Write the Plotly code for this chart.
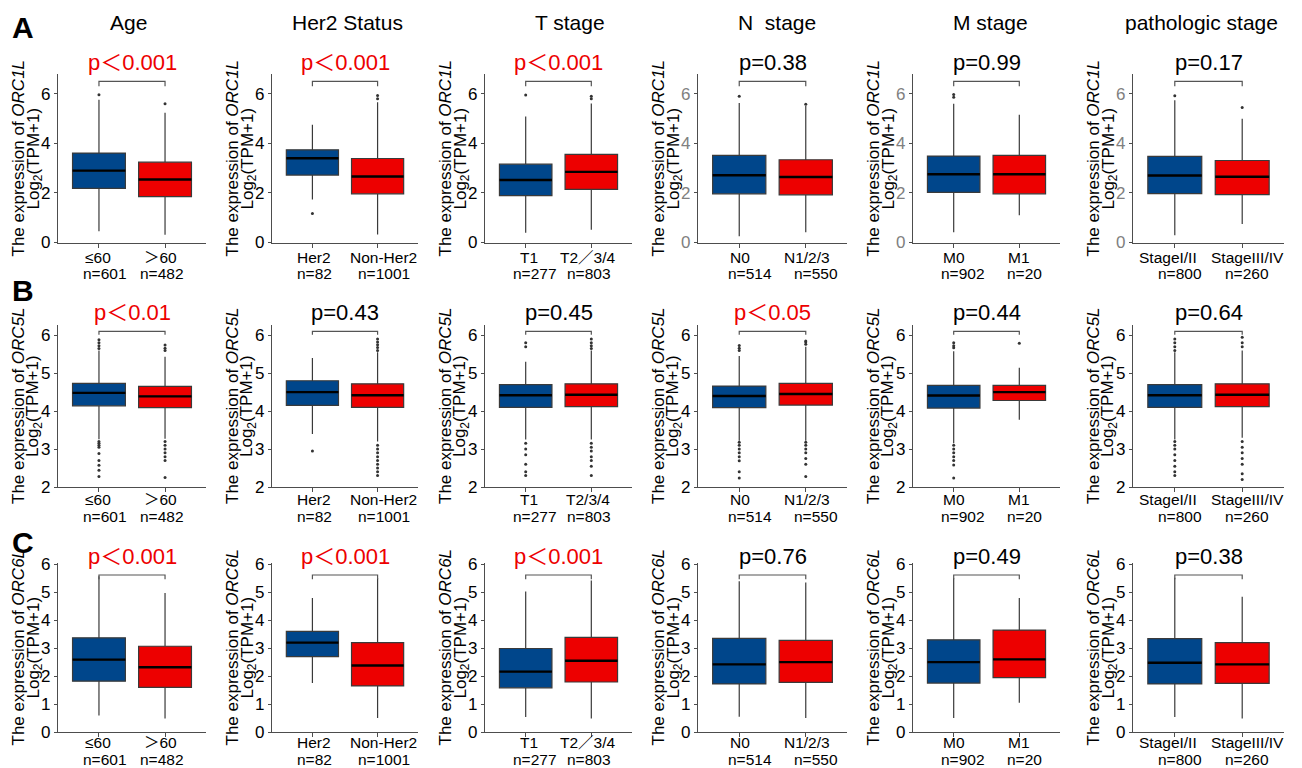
import plotly.graph_objects as go

W, H = 1302, 768
FONT = "Liberation Sans, Arial, Noto Sans CJK SC, sans-serif"

# ---------------- data ----------------
genes = ["ORC1L", "ORC5L", "ORC6L"]
row_letters = ["A", "B", "C"]
col_titles = ["Age", "Her2 Status", "T stage", "N  stage", "M stage", "pathologic stage"]

labels_AC = [["≤60", "＞60"], ["Her2", "Non-Her2"], ["T1", "T2／3/4"],
             ["N0", "N1/2/3"], ["M0", "M1"], ["StageI/II", "StageIII/IV"]]
labels_B = [["≤60", "＞60"], ["Her2", "Non-Her2"], ["T1", "T2/3/4"],
            ["N0", "N1/2/3"], ["M0", "M1"], ["StageI/II", "StageIII/IV"]]
group_n = [[601, 482], [82, 1001], [277, 803], [514, 550], [902, 20], [800, 260]]

p_values = [
    ["p＜0.001", "p＜0.001", "p＜0.001", "p=0.38", "p=0.99", "p=0.17"],
    ["p＜0.01", "p=0.43", "p=0.45", "p＜0.05", "p=0.44", "p=0.64"],
    ["p＜0.001", "p＜0.001", "p＜0.001", "p=0.76", "p=0.49", "p=0.38"],
]

# box statistics per column: [group1, group2] each (lower whisker, q1, median, q3, upper whisker)
orc1l_stats = [
    [(0.44, 2.17, 2.89, 3.60, 5.76), (0.29, 1.84, 2.53, 3.23, 5.23)],
    [(1.72, 2.71, 3.39, 3.73, 4.75), (0.30, 1.95, 2.65, 3.38, 5.66)],
    [(0.37, 1.88, 2.51, 3.15, 5.08), (0.50, 2.13, 2.84, 3.55, 5.61)],
    [(0.23, 1.95, 2.70, 3.51, 5.63), (0.40, 1.91, 2.63, 3.33, 5.50)],
    [(0.40, 2.01, 2.74, 3.48, 5.60), (1.08, 1.95, 2.74, 3.51, 5.15)],
    [(0.27, 1.96, 2.69, 3.47, 5.74), (0.73, 1.92, 2.64, 3.30, 4.99)],
]
orc1l_outliers = [
    [[5.96], [5.60]],
    [[1.15], [5.80, 5.93]],
    [[5.95], [5.80, 5.90]],
    [[5.90], [5.58]],
    [[5.86, 5.97], []],
    [[5.92], [5.44]],
]

orc5l_stats = [
    [(3.26, 4.14, 4.48, 4.73, 5.60), (3.27, 4.09, 4.39, 4.65, 5.43)],
    [(3.40, 4.15, 4.50, 4.80, 5.40), (3.20, 4.10, 4.42, 4.72, 5.55)],
    [(3.25, 4.10, 4.42, 4.70, 5.30), (3.25, 4.12, 4.43, 4.72, 5.60)],
    [(3.22, 4.09, 4.40, 4.66, 5.45), (3.22, 4.16, 4.45, 4.73, 5.70)],
    [(3.15, 4.08, 4.41, 4.68, 5.58), (3.77, 4.28, 4.50, 4.68, 5.14)],
    [(3.25, 4.10, 4.42, 4.70, 5.55), (3.30, 4.12, 4.43, 4.72, 5.60)],
]
orc5l_outliers = [
    [[5.65, 5.72, 5.80, 5.88, 3.20, 3.15, 3.10, 3.05, 2.88, 2.70, 2.57, 2.44, 2.28],
     [5.60, 5.66, 5.74, 3.20, 3.10, 3.00, 2.90, 2.80, 2.70, 2.25]],
    [[2.95],
     [5.60, 5.68, 5.75, 5.82, 5.90, 3.10, 3.00, 2.90, 2.80, 2.70, 2.60, 2.50, 2.40, 2.30]],
    [[5.70, 5.80, 3.15, 3.00, 2.85, 2.60, 2.40, 2.30],
     [5.65, 5.72, 5.80, 5.90, 3.15, 3.05, 2.95, 2.80, 2.70, 2.55, 2.30]],
    [[5.60, 5.66, 5.73, 3.18, 3.10, 3.00, 2.90, 2.80, 2.69, 2.40, 2.24],
     [5.76, 5.82, 5.85, 3.18, 3.10, 3.00, 2.90, 2.75, 2.60, 2.28]],
    [[5.67, 5.72, 5.80, 3.10, 3.00, 2.90, 2.80, 2.70, 2.58, 2.24],
     [5.79]],
    [[5.60, 5.70, 5.80, 5.90, 3.20, 3.10, 3.00, 2.85, 2.70, 2.55, 2.40, 2.30],
     [5.70, 5.80, 5.95, 3.20, 3.05, 2.90, 2.75, 2.60, 2.35, 2.20]],
]

orc6l_stats = [
    [(0.59, 1.82, 2.59, 3.37, 5.58), (0.48, 1.60, 2.32, 3.07, 4.98)],
    [(1.75, 2.70, 3.20, 3.60, 4.80), (0.50, 1.65, 2.38, 3.20, 5.50)],
    [(0.54, 1.58, 2.16, 2.99, 5.03), (0.48, 1.79, 2.55, 3.39, 5.42)],
    [(0.55, 1.72, 2.42, 3.35, 5.40), (0.50, 1.78, 2.50, 3.28, 5.35)],
    [(0.50, 1.75, 2.50, 3.30, 5.50), (1.05, 1.95, 2.60, 3.65, 4.80)],
    [(0.54, 1.72, 2.48, 3.34, 5.52), (0.48, 1.74, 2.42, 3.20, 4.84)],
]
orc6l_outliers = [[[], []] for _ in range(6)]

row_stats = [orc1l_stats, orc5l_stats, orc6l_stats]
row_outliers = [orc1l_outliers, orc5l_outliers, orc6l_outliers]
row_labels = [labels_AC, labels_B, labels_AC]

# ---------------- layout / style ----------------
group_colors = ["#00468B", "#ED0000"]
col_left = [58, 272, 485, 698, 913, 1133]
col_right = [206, 418, 632, 847, 1060, 1284]
col_title_x = [128, 347, 570, 777, 990, 1201]
row_top = [74, 325, 563]
row_bottom = [243, 487, 732]
row_yrange = [[-0.04, 6.8], [2.0, 6.27], [0.0, 6.05]]
row_ticks = [[0, 2, 4, 6], [2, 3, 4, 5, 6], [0, 1, 2, 3, 4, 5, 6]]
row_bracket = [6.5, 6.1, 5.62]
row_tip = [0.2, 0.09, 0.15]
row_letter_y = [27, 290, 542]
row_label_offsets = [(14, 31), (12, 29), (10, 27)]
label_xshift = [[-1, -5], [2, 6], [3, -3], [1, 1], [0, 0], [-7, 5]]
n_xshift = [[6, -3], [2, 6], [9, -2], [11, 10], [9, 5], [5, 5]]
grey_ticks = {(0, 3), (0, 4), (0, 5)}
positions = [1, 2]
LABEL_SIZE = 15.5

fig = go.Figure()
annotations = []
layout_axes = {}

for r in range(3):
    for c in range(6):
        k = r * 6 + c + 1
        sfx = "" if k == 1 else str(k)
        xa, ya = "x" + sfx, "y" + sfx
        tick_color = "#808080" if (r, c) in grey_ticks else "#000000"
        layout_axes["xaxis" + sfx] = dict(
            domain=[col_left[c] / W, col_right[c] / W], anchor=ya,
            range=[0.38, 2.62], tickvals=positions, showticklabels=False,
            showline=True, linecolor="#4d4d4d", linewidth=1.4,
            ticks="outside", ticklen=4, tickcolor="#4d4d4d",
            showgrid=False, zeroline=False, fixedrange=True, automargin=False)
        layout_axes["yaxis" + sfx] = dict(
            domain=[1 - row_bottom[r] / H, 1 - row_top[r] / H], anchor=xa,
            range=row_yrange[r], tickvals=row_ticks[r],
            showline=True, linecolor="#4d4d4d", linewidth=1.4,
            ticks="outside", ticklen=3, tickcolor="#4d4d4d",
            tickfont=dict(family=FONT, size=17, color=tick_color),
            showgrid=False, zeroline=False, fixedrange=True, automargin=False)

        stats = row_stats[r][c]
        outs = row_outliers[r][c]
        for g in range(2):
            lo, q1, med, q3, hi = stats[g]
            p = positions[g]
            fig.add_trace(go.Box(
                x=[p], q1=[q1], median=[med], q3=[q3],
                lowerfence=[lo], upperfence=[hi],
                width=0.8, whiskerwidth=0, boxpoints=False,
                fillcolor=group_colors[g],
                line=dict(color="#3a3a3a", width=1.2),
                xaxis=xa, yaxis=ya, showlegend=False, hoverinfo="skip"))
            # thick median line
            fig.add_trace(go.Scatter(
                x=[p - 0.4, p + 0.4], y=[med, med], mode="lines",
                line=dict(color="#000000", width=2.4),
                xaxis=xa, yaxis=ya, showlegend=False, hoverinfo="skip"))
            if outs[g]:
                fig.add_trace(go.Scatter(
                    x=[p] * len(outs[g]), y=outs[g], mode="markers",
                    marker=dict(color="#333333", size=3),
                    xaxis=xa, yaxis=ya, showlegend=False, hoverinfo="skip"))

        # significance bracket
        b, t = row_bracket[r], row_tip[r]
        fig.add_trace(go.Scatter(
            x=[positions[0], positions[0], positions[1], positions[1]],
            y=[b - t, b, b, b - t], mode="lines",
            line=dict(color="#555555", width=1.2),
            xaxis=xa, yaxis=ya, showlegend=False, hoverinfo="skip"))
        ptxt = p_values[r][c]
        annotations.append(dict(
            x=sum(positions) / 2, y=b, xref=xa, yref=ya, yshift=19,
            text=ptxt, showarrow=False, xanchor="center", yanchor="middle",
            font=dict(family=FONT, size=22,
                      color="#ED0000" if "＜" in ptxt else "#000000")))

        # x category labels (two lines)
        off1, off2 = row_label_offsets[r]
        for g in range(2):
            annotations.append(dict(
                x=positions[g], xref=xa, y=1 - (row_bottom[r] + off1) / H, yref="paper",
                xshift=label_xshift[c][g],
                text=row_labels[r][c][g], showarrow=False,
                xanchor="center", yanchor="middle",
                font=dict(family=FONT, size=LABEL_SIZE, color="#000000")))
            annotations.append(dict(
                x=positions[g], xref=xa, y=1 - (row_bottom[r] + off2) / H, yref="paper",
                xshift=n_xshift[c][g],
                text="n=%d" % group_n[c][g], showarrow=False,
                xanchor="center", yanchor="middle",
                font=dict(family=FONT, size=LABEL_SIZE, color="#000000")))

        # y-axis title (two lines)
        ymid = 1 - (row_top[r] + row_bottom[r]) / 2 / H
        annotations.append(dict(
            x=(col_left[c] - 40) / W, y=ymid, xref="paper", yref="paper",
            text="The expression of <i>%s</i>" % genes[r], textangle=-90,
            showarrow=False, xanchor="center", yanchor="middle",
            font=dict(family=FONT, size=17, color="#000000")))
        annotations.append(dict(
            x=(col_left[c] - 24) / W, y=ymid, xref="paper", yref="paper",
            text="Log<sub>2</sub>(TPM+1)", textangle=-90,
            showarrow=False, xanchor="center", yanchor="middle",
            font=dict(family=FONT, size=17, color="#000000")))

# column titles
for c in range(6):
    annotations.append(dict(
        x=col_title_x[c] / W, y=1 - 22 / H, xref="paper", yref="paper",
        text=col_titles[c], showarrow=False, xanchor="center", yanchor="middle",
        font=dict(family=FONT, size=21, color="#000000")))

# panel letters
for r in range(3):
    annotations.append(dict(
        x=23 / W, y=1 - row_letter_y[r] / H, xref="paper", yref="paper",
        text="<b>%s</b>" % row_letters[r], showarrow=False,
        xanchor="center", yanchor="middle",
        font=dict(family=FONT, size=30, color="#000000")))

fig.update_layout(
    width=W, height=H, autosize=False, margin=dict(l=0, r=0, t=0, b=0, pad=0),
    paper_bgcolor="white", plot_bgcolor="white",
    annotations=annotations, showlegend=False, **layout_axes)

fig.write_html(
    "out.html",
    config={"displayModeBar": False},
    post_script="document.body.style.margin='0px';document.body.style.overflow='hidden';")
